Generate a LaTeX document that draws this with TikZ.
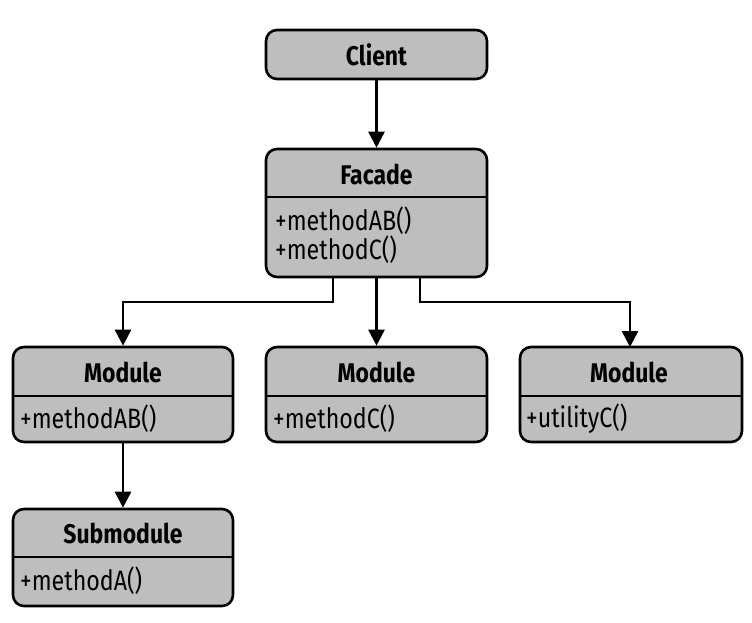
\documentclass[tikz,border=0pt]{standalone}
\usepackage{fontspec}
\setmainfont{Fira Sans}
\usetikzlibrary{arrows.meta}
\begin{document}
\begin{tikzpicture}[x=1pt,y=-1pt,
  umlbox/.style={draw=black, line width=2.6pt, fill=boxgray, rounded corners=11pt, inner sep=0pt},
  title/.style={font=\fontsize{27}{30}\selectfont\bfseries, inner sep=0pt, anchor=center},
  member/.style={font=\fontsize{28}{27}\selectfont, inner sep=0pt, anchor=west, align=left},
  divider/.style={line width=2.2pt},
  link/.style={line width=2.6pt, -{Triangle[length=16pt,width=16pt]}}]
\definecolor{boxgray}{RGB}{190,190,190}
\useasboundingbox (0,0) rectangle (752,622);

% Client (single compartment)
\node[umlbox, minimum width=221pt, minimum height=49pt] (client) at (376.5,54.5) {};
\node[title] (clientT) at (client.center) {\scalebox{0.85}[1]{Client}};

% Facade
\node[umlbox, minimum width=221pt, minimum height=128pt] (facade) at (376.5,213) {};
\draw[divider] (266,197) -- (487,197);
\node[title] (facadeT) at (376.5,174) {\scalebox{0.85}[1]{Facade}};
\node[member] (facadeM) at (275,235) {\scalebox{0.83}[1]{+methodAB()}\\\scalebox{0.83}[1]{+methodC()}};

% Modules
\node[umlbox, minimum width=220pt, minimum height=95pt] (modA) at (123,394.5) {};
\draw[divider] (13,396) -- (233,396);
\node[title] (modAT) at (123,372) {\scalebox{0.85}[1]{Module}};
\node[member] (modAM) at (20,419) {\scalebox{0.83}[1]{+methodAB()}};

\node[umlbox, minimum width=221pt, minimum height=95pt] (modC) at (376.5,394.5) {};
\draw[divider] (266,396) -- (487,396);
\node[title] (modCT) at (376.5,372) {\scalebox{0.85}[1]{Module}};
\node[member] (modCM) at (273,419) {\scalebox{0.83}[1]{+methodC()}};

\node[umlbox, minimum width=222pt, minimum height=95pt] (modU) at (631,394.5) {};
\draw[divider] (520,396) -- (742,396);
\node[title] (modUT) at (629,372) {\scalebox{0.85}[1]{Module}};
\node[member] (modUM) at (526,419) {\scalebox{0.83}[1]{+utilityC()}};

% Submodule
\node[umlbox, minimum width=220pt, minimum height=97pt] (sub) at (123,557.5) {};
\draw[divider] (13,557) -- (233,557);
\node[title] (subT) at (123,533) {\scalebox{0.85}[1]{Submodule}};
\node[member] (subM) at (20,581) {\scalebox{0.83}[1]{+methodA()}};

% Connectors
\coordinate (bendL) at (333,302);
\coordinate (bendR) at (420,302);
\draw[link] (client.south) -- (facade.north);
\draw[link] (facade.south -| bendL) -- (bendL) -- (bendL -| modA.north) -- (modA.north);
\draw[link] (facade.south) -- (modC.north);
\draw[link] (facade.south -| bendR) -- (bendR) -- (bendR -| 630,0) -- (630,347);
\draw[link] (modA.south) -- (sub.north);
\end{tikzpicture}
\end{document}
